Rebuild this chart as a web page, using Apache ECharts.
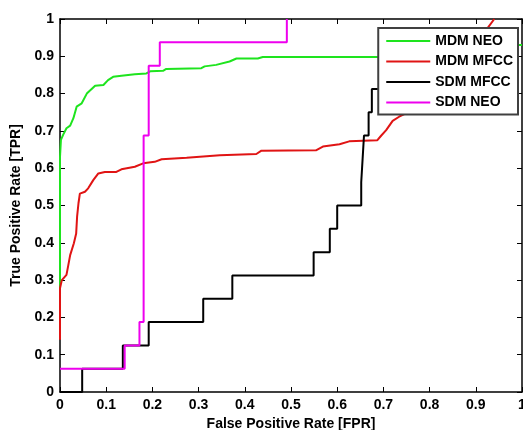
<!DOCTYPE html>
<html>
<head>
<meta charset="utf-8">
<script src="https://cdn.jsdelivr.net/npm/echarts@6/dist/echarts.min.js"></script>
<style>
  html, body { margin: 0; padding: 0; background: #fff; }
  #chart { width: 523px; height: 430px; }
</style>
</head>
<body>
<div id="chart"></div>
<script>
// Series names as in the legend
const seriesNames = ["MDM NEO", "MDM MFCC", "SDM MFCC", "SDM NEO"];

// [FPR, TPR] points
const mdmNeo = [
  [0, 0.27], [0, 0.63], [0.002, 0.676], [0.007, 0.69], [0.014, 0.707],
  [0.022, 0.714], [0.029, 0.734], [0.036, 0.765], [0.047, 0.774],
  [0.058, 0.8], [0.076, 0.821], [0.094, 0.823], [0.104, 0.836],
  [0.115, 0.845], [0.133, 0.848], [0.162, 0.852], [0.187, 0.854],
  [0.196, 0.86], [0.223, 0.861], [0.23, 0.866], [0.306, 0.868],
  [0.313, 0.873], [0.338, 0.877], [0.367, 0.886], [0.382, 0.894],
  [0.428, 0.894], [0.439, 0.898], [0.7, 0.898], [0.88, 0.9],
  [0.92, 0.93], [1, 0.93]
];

const mdmMfcc = [
  [0, 0.14], [0, 0.278], [0.004, 0.3], [0.014, 0.314], [0.018, 0.34],
  [0.022, 0.367], [0.03, 0.399], [0.035, 0.425], [0.037, 0.47],
  [0.04, 0.506], [0.043, 0.532], [0.054, 0.537], [0.061, 0.546],
  [0.072, 0.568], [0.083, 0.586], [0.097, 0.59], [0.122, 0.59],
  [0.133, 0.597], [0.162, 0.604], [0.18, 0.613], [0.205, 0.617],
  [0.22, 0.624], [0.274, 0.628], [0.346, 0.635], [0.425, 0.638],
  [0.436, 0.647], [0.554, 0.648], [0.569, 0.658], [0.605, 0.664],
  [0.626, 0.672], [0.687, 0.675], [0.695, 0.687], [0.706, 0.702],
  [0.72, 0.727], [0.734, 0.738], [0.75, 0.748], [0.8, 0.8],
  [0.86, 0.87], [0.9, 0.92], [0.925, 0.975], [0.94, 1]
];

// step curves: horizontal first, then up
const sdmMfcc = [
  [0, 0], [0.048, 0.0625], [0.136, 0.125], [0.192, 0.1875],
  [0.31, 0.25], [0.373, 0.3125], [0.549, 0.375], [0.584, 0.4375],
  [0.6, 0.5], [0.652, 0.5625], [0.655, 0.625], [0.658, 0.6875],
  [0.668, 0.75], [0.675, 0.8125], [0.71, 0.875], [0.72, 0.9375],
  [0.9, 0.9375]
];

const sdmNeo = [
  [0, 0.0625], [0.14, 0.125], [0.172, 0.1875], [0.181, 0.6875],
  [0.192, 0.875], [0.216, 0.9375], [0.491, 1]
];

const colors = ["#1ee41e", "#e01414", "#000000", "#ee00ee"];

const chart = echarts.init(document.getElementById("chart"));

const font = "'Liberation Sans', Arial, sans-serif";

// shared look for the box axes
const baseAxis = {
  type: "value",
  min: 0,
  max: 1,
  interval: 0.1,
  axisLine: { show: true, onZero: false, lineStyle: { color: "#000", width: 1.5 } },
  axisTick: { show: true, inside: true, length: 5, lineStyle: { color: "#000", width: 1 } },
  splitLine: { show: false },
};

chart.setOption({
  animation: false,
  backgroundColor: "#ffffff",
  grid: {
    left: 60,
    right: 1,
    top: 19,
    bottom: 38,
    containLabel: false,
    outerBoundsMode: "none",
  },
  legend: {
    data: seriesNames,
    orient: "vertical",
    right: 5,
    top: 28,
    backgroundColor: "#ffffff",
    borderColor: "#404040",
    borderWidth: 2,
    borderRadius: 0,
    padding: [6, 5, 5, 8],
    itemWidth: 44,
    itemHeight: 2,
    itemGap: 6.5,
    icon: "rect",
    textStyle: {
      color: "#000",
      fontFamily: font,
      fontWeight: "bold",
      fontSize: 14,
      lineHeight: 14,
    },
  },
  xAxis: [
    Object.assign({}, baseAxis, {
      position: "bottom",
      name: "False Positive Rate [FPR]",
      nameLocation: "middle",
      nameGap: 23,
      nameTextStyle: { color: "#000", fontFamily: font, fontWeight: "bold", fontSize: 14 },
      axisLabel: { color: "#000", fontFamily: font, fontWeight: "bold", fontSize: 14, margin: 6 },
    }),
    Object.assign({}, baseAxis, {
      position: "top",
      axisLabel: { show: false },
    }),
  ],
  yAxis: [
    Object.assign({}, baseAxis, {
      position: "left",
      name: "True Positive Rate [TPR]",
      nameLocation: "middle",
      nameGap: 29,
      nameTextStyle: { color: "#000", fontFamily: font, fontWeight: "bold", fontSize: 14 },
      axisLabel: { color: "#000", fontFamily: font, fontWeight: "bold", fontSize: 14, margin: 6 },
    }),
    Object.assign({}, baseAxis, {
      position: "right",
      axisLabel: { show: false },
    }),
  ],
  series: [
    {
      name: seriesNames[0],
      type: "line",
      data: mdmNeo,
      color: colors[0],
      symbol: "none",
      lineStyle: { width: 2, color: colors[0] },
    },
    {
      name: seriesNames[1],
      type: "line",
      data: mdmMfcc,
      color: colors[1],
      symbol: "none",
      lineStyle: { width: 2, color: colors[1] },
    },
    {
      name: seriesNames[2],
      type: "line",
      step: "end",
      data: sdmMfcc,
      color: colors[2],
      symbol: "none",
      lineStyle: { width: 2, color: colors[2] },
    },
    {
      name: seriesNames[3],
      type: "line",
      step: "end",
      data: sdmNeo,
      color: colors[3],
      symbol: "none",
      lineStyle: { width: 2, color: colors[3] },
    },
  ],
});
</script>
</body>
</html>
